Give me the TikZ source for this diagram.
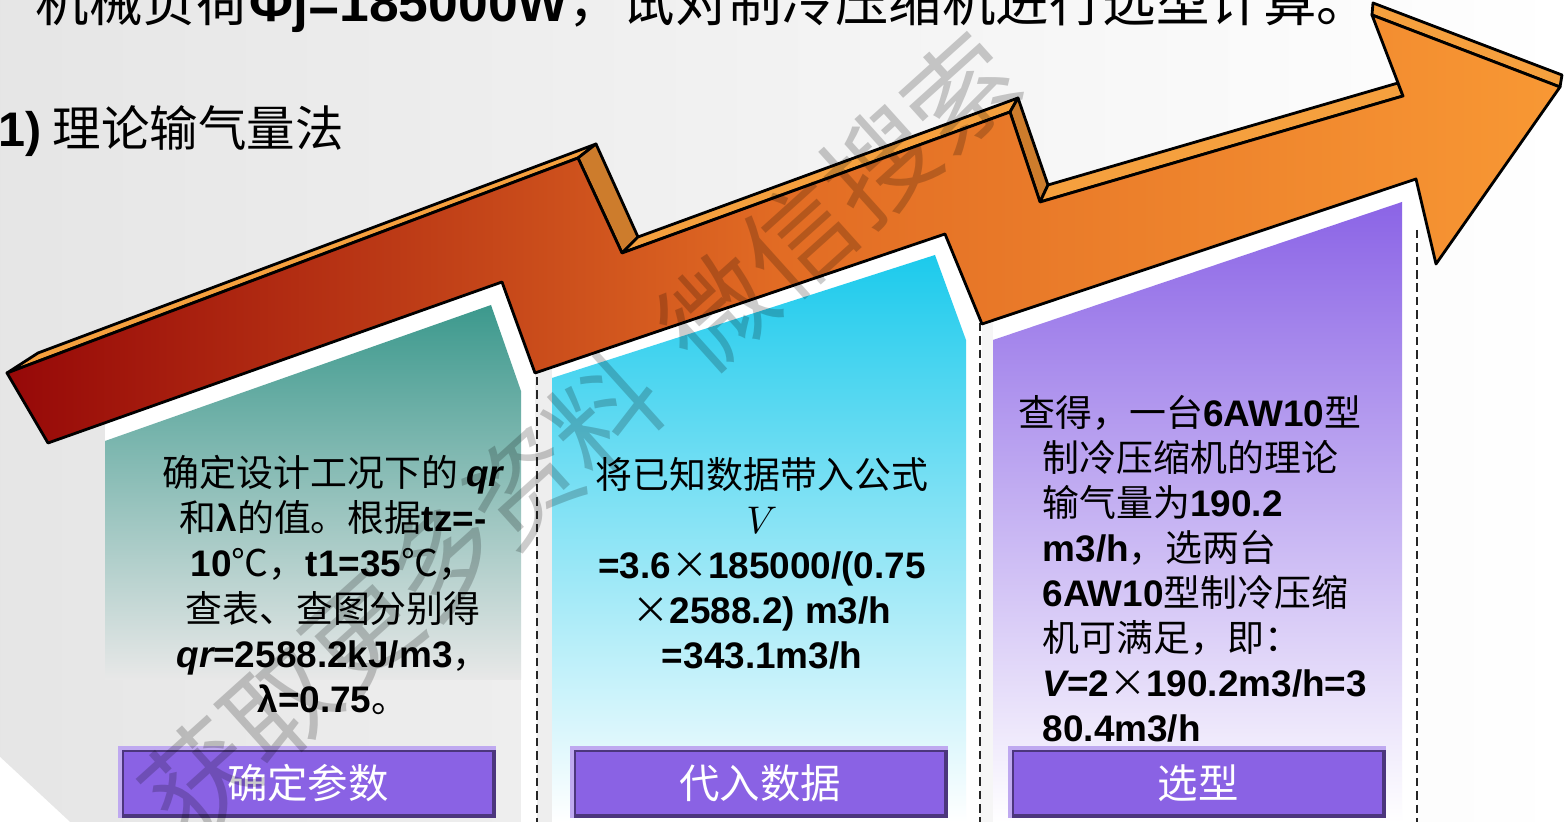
\documentclass[tikz,border=0pt]{standalone}
\usepackage{fontspec}
\setmainfont{Noto Sans CJK SC}
\newfontfamily\arial{Liberation Sans}
\newcommand{\lb}[1]{{\arial\bfseries #1}}
\definecolor{arrowdark}{RGB}{150,8,8}
\definecolor{arrowmid}{RGB}{226,108,36}
\definecolor{arrowlight}{RGB}{248,152,52}
\definecolor{topface}{RGB}{245,160,62}
\definecolor{sideface}{RGB}{205,124,44}
\definecolor{tealtop}{RGB}{60,153,141}
\definecolor{cyantop}{RGB}{28,202,236}
\definecolor{violettop}{RGB}{139,100,230}
\definecolor{btnviolet}{RGB}{138,98,228}

\begin{document}
\begin{tikzpicture}[x=0.01cm,y=-0.01cm,
  face/.style={draw=black,line width=0.8pt,line join=round},
  sepline/.style={draw=black!85,line width=0.6pt,dash pattern=on 2.4pt off 1.4pt},
  bodytext/.style={align=center,inner sep=0pt,font=\fontsize{10.5}{12.8}\selectfont},
  btnbox/.style={fill=btnviolet,draw=btnviolet!55!black,line width=1pt,
    minimum width=3.72cm,minimum height=0.66cm,inner sep=0pt,text=white,
    font=\fontsize{11.5}{12}\selectfont}]
  \useasboundingbox (0,0) rectangle (1565,822);
  \clip (0,0) rectangle (1565,822);

  % background
  \shade[left color=black!10,right color=white] (0,0) rectangle (1565,822);
  \fill[white] (0,757) -- (70,822) -- (0,822) -- cycle;

  % headings
  \node[anchor=base west,inner sep=0pt,font=\fontsize{15.2}{17}\selectfont] (title) at (35,22)
    {机械负荷\lb{Φj=185000W}，试对制冷压缩机进行选型计算。};
  \node[anchor=base west,inner sep=0pt,font=\fontsize{13.8}{15}\selectfont] (method) at (-2,147)
    {\lb{1)} 理论输气量法};

  % white columns behind the panels
  \fill[white] (105,423) -- (502,282) -- (535,373) -- (537,822) -- (521,822) -- (521,680) -- (105,680) -- cycle;
  \fill[white] (552,367) -- (945,234) -- (982,324) -- (980,822) -- (552,822) -- cycle;
  \fill[white] (993,320) -- (1416,179) -- (1420,196) -- (1418,822) -- (993,822) -- cycle;

  % panels
  \shade[top color=tealtop,bottom color=black!9] (105,441) -- (491,305) -- (521,391) -- (521,680) -- (105,680) -- cycle;
  \shade[top color=cyantop,bottom color=white] (552,378) -- (935,255) -- (966,340) -- (966,822) -- (552,822) -- cycle;
  \shade[top color=violettop,bottom color=white] (993,340) -- (1402,202) -- (1402,822) -- (993,822) -- cycle;

  % separators
  \draw[sepline] (537,377) -- (537,822);
  \draw[sepline] (980,323) -- (980,822);
  \draw[sepline] (1417,230) -- (1417,822);

  % arrow: top and side faces
  \draw[face,fill=topface] (7,373) -- (38,353) -- (596,144) -- (578,158) -- cycle;
  \draw[face,fill=sideface] (578,158) -- (596,144) -- (638,237) -- (622,253) -- cycle;
  \draw[face,fill=topface] (622,253) -- (638,237) -- (1018,98) -- (1010,112) -- cycle;
  \draw[face,fill=sideface] (1010,112) -- (1018,98) -- (1048,185) -- (1040,202) -- cycle;
  \draw[face,fill=topface] (1040,202) -- (1048,185) -- (1398,83) -- (1403,96) -- cycle;
  \draw[face,fill=topface] (1372,15) -- (1373,3) -- (1562,75) -- (1560,87) -- cycle;
  % arrow: front face
  \shadedraw[face,left color=arrowdark,right color=arrowlight,middle color=arrowmid]
    (7,373) -- (578,158) -- (622,253) -- (1010,112) -- (1040,202) -- (1403,96)
    -- (1372,15) -- (1560,87) -- (1436,264) -- (1416,179) -- (982,324) -- (945,234)
    -- (535,373) -- (502,282) -- (48,443) -- cycle;

  % panel texts
  \node[bodytext] (param) at (333,585)
    {确定设计工况下的 \lb{\itshape qr}\\
     和\lb{λ}的值。根据\lb{tz=-}\\
     \lb{10}℃，\lb{t1=35}℃，\\
     查表、查图分别得\\
     \lb{\itshape qr}\lb{=2588.2kJ/m3}，\\
     \lb{λ=0.75}。};
  \node[bodytext] (subst) at (762,563)
    {将已知数据带入公式\\
     $V$\\
     \lb{=3.6}×\lb{185000/(0.75}\\
     ×\lb{2588.2) m3/h}\\
     \lb{=343.1m3/h}};
  \node[bodytext,align=left,anchor=west] (choice) at (1042,569)
    {\hspace*{-0.24cm}查得，一台\lb{6AW10}型\\
     制冷压缩机的理论\\
     输气量为\lb{190.2}\\
     \lb{m3/h}，选两台\\
     \lb{6AW10}型制冷压缩\\
     机可满足，即：\\
     \lb{\itshape V}\lb{=2}×\lb{190.2m3/h=3}\\
     \lb{80.4m3/h}};

  % step buttons
  \node[btnbox] (b1) at (308,783) {确定参数};
  \node[btnbox] (b2) at (760,783) {代入数据};
  \node[btnbox] (b3) at (1198,783) {选型};
  \foreach \b in {b1,b2,b3}
    \draw[btnviolet!55!white,line width=1pt] (\b.south west) |- (\b.north east);

  % watermark
  \node[rotate=42,text=black,text opacity=0.2,font=\fontsize{31}{31}\selectfont] (mark) at (580,435)
    {获取更多资料\hspace{0.4em}微信搜索};
\end{tikzpicture}
\end{document}
